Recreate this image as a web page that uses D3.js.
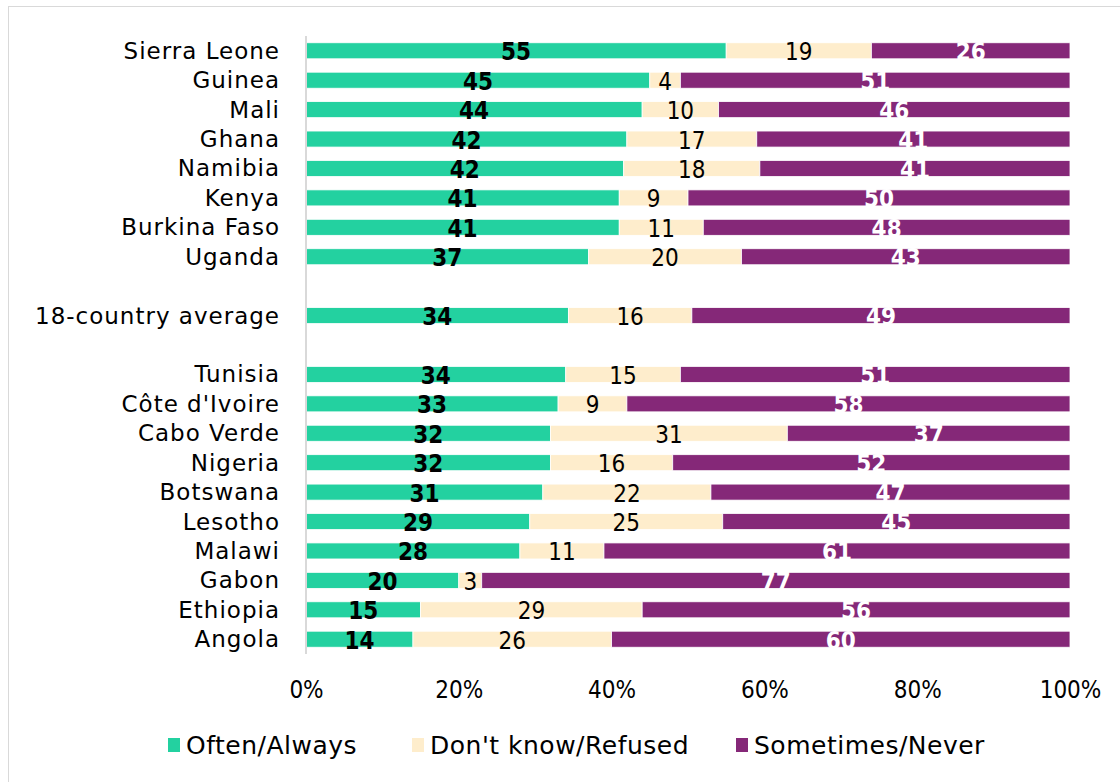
<!DOCTYPE html>
<html>
<head>
<meta charset="utf-8">
<script src="https://cdn.jsdelivr.net/npm/d3@7"></script>
<style>
  body { margin: 0; background: #fff; }
  svg { display: block; }
</style>
</head>
<body>
<div id="chart"></div>
<script>
// rows top to bottom; '' marks an empty slot between groups
const countries = ['Sierra Leone', 'Guinea', 'Mali', 'Ghana', 'Namibia', 'Kenya', 'Burkina Faso', 'Uganda',
  '', '18-country average', ' ',
  'Tunisia', "Côte d'Ivoire", 'Cabo Verde', 'Nigeria', 'Botswana', 'Lesotho', 'Malawi', 'Gabon', 'Ethiopia', 'Angola']
const oftenAlways = [55, 45, 44, 42, 42, 41, 41, 37, null, 34, null, 34, 33, 32, 32, 31, 29, 28, 20, 15, 14]
const dontKnow = [19, 4, 10, 17, 18, 9, 11, 20, null, 16, null, 15, 9, 31, 16, 22, 25, 11, 3, 29, 26]
const sometimesNever = [26, 51, 46, 41, 41, 50, 48, 43, null, 49, null, 51, 58, 37, 52, 47, 45, 61, 77, 56, 60]
const tickValues = [0, 0.2, 0.4, 0.6, 0.8, 1]
const seriesNames = ['Often/Always', "Don't know/Refused", 'Sometimes/Never']

const colors = ['#23D1A0', '#FEEDCC', '#852878']
const labelStyle = [
  { fill: '#000', weight: 'bold' },
  { fill: '#000', weight: 'normal' },
  { fill: '#fff', weight: 'bold' }
]

const width = 1120
const height = 782
const margin = { top: 36, left: 306 }

const rows = countries.map((c, i) => ({
  name: c,
  values: [oftenAlways[i], dontKnow[i], sometimesNever[i]]
}))

const svg = d3.select('#chart')
  .append('svg')
  .attr('width', width)
  .attr('height', height)

svg.append('rect')
  .attr('x', 8.5)
  .attr('y', 6.5)
  .attr('width', width)
  .attr('height', height)
  .attr('fill', 'none')
  .attr('stroke', '#d9d9d9')

const xScale = d3.scaleLinear()
  .domain([0, 1])
  .range([0, 764])

const yScale = d3.scaleBand()
  .domain(countries)
  .range([0, 618])
  .paddingInner(0.455)
  .paddingOuter(0.23)

const container = svg.append('g')
  .attr('transform', `translate(${margin.left},${margin.top})`)

// category labels
container.append('g')
  .selectAll('text')
  .data(rows.filter((d) => d.values[0] !== null))
  .enter()
  .append('text')
  .attr('x', -26)
  .attr('y', (d) => yScale(d.name) + yScale.bandwidth() / 2 + 8)
  .attr('text-anchor', 'end')
  .style('font-family', 'DejaVu Sans')
  .style('font-size', '23px')
  .style('letter-spacing', '1px')
  .style('fill', '#000')
  .text((d) => d.name)

// stacked segments, normalised to 100%
const segments = []
rows.forEach((r) => {
  if (r.values[0] === null) return
  const total = d3.sum(r.values)
  let acc = 0
  r.values.forEach((v, k) => {
    segments.push({ name: r.name, k, value: v, x0: acc / total, x1: (acc + v) / total })
    acc += v
  })
})

const chartGroup = container.append('g')

chartGroup.selectAll('rect')
  .data(segments)
  .enter()
  .append('rect')
  .attr('x', (d) => xScale(d.x0))
  .attr('y', (d) => yScale(d.name))
  .attr('width', (d) => xScale(d.x1) - xScale(d.x0))
  .attr('height', yScale.bandwidth())
  .attr('fill', (d) => colors[d.k])
  .attr('stroke', '#fff')
  .attr('stroke-width', 0.8)

chartGroup.selectAll('text')
  .data(segments)
  .enter()
  .append('text')
  .attr('x', (d) => xScale((d.x0 + d.x1) / 2))
  .attr('y', (d) => yScale(d.name) + yScale.bandwidth() / 2 + 9.5)
  .attr('text-anchor', 'middle')
  .style('font-family', 'DejaVu Sans Condensed')
  .style('font-size', '24px')
  .style('font-weight', (d) => labelStyle[d.k].weight)
  .style('fill', (d) => labelStyle[d.k].fill)
  .text((d) => d.value)

// vertical axis line
container.append('line')
  .attr('x1', 0)
  .attr('x2', 0)
  .attr('y1', 0)
  .attr('y2', 618)
  .attr('stroke', '#d9d9d9')
  .attr('stroke-width', 2)

// x axis
const xAxis = d3.axisBottom(xScale)
  .tickValues(tickValues)
  .tickFormat(d3.format('.0%'))
  .tickSize(0)
  .tickPadding(0)

const axisG = container.append('g')
  .attr('transform', 'translate(0,662)')
  .call(xAxis)

axisG.select('.domain').remove()
axisG.selectAll('text')
  .attr('dy', 0)
  .style('font-family', 'DejaVu Sans Condensed')
  .style('font-size', '24px')
  .style('fill', '#000')

// legend
const legendX = [168, 412, 736]
const legend = svg.append('g')
  .selectAll('g')
  .data(seriesNames)
  .enter()
  .append('g')
  .attr('transform', (d, i) => `translate(${legendX[i]},738)`)

legend.append('rect')
  .attr('width', 12)
  .attr('height', 14)
  .attr('fill', (d, i) => colors[i])

legend.append('text')
  .attr('x', 18)
  .attr('y', 16)
  .style('font-family', 'DejaVu Sans')
  .style('font-size', '25px')
  .style('letter-spacing', '0.5px')
  .style('fill', '#000')
  .text((d) => d)
</script>
</body>
</html>
